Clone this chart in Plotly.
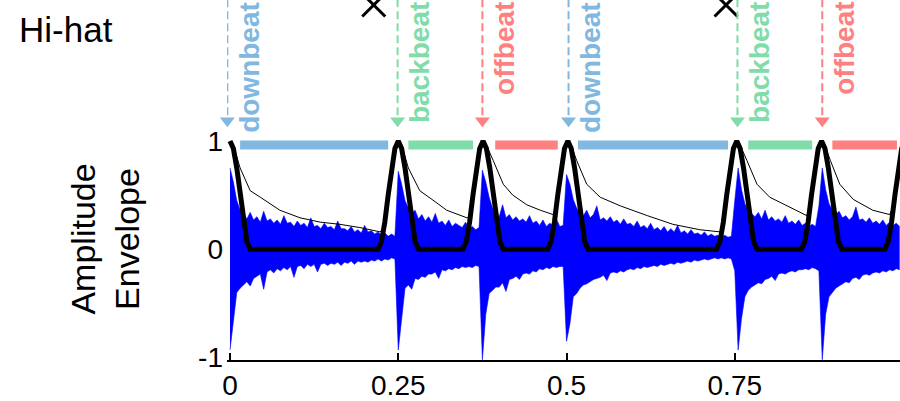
import plotly.graph_objects as go

# ---------------- data ----------------
# sampled audio waveform (hi-hat), upper and lower extent per sample
wave_dt = 0.005
wave_upper = [
    0.75, 0.62, 0.45, 0.36, 0.33, 0.28, 0.34, 0.27, 0.30, 0.25,
    0.35, 0.26, 0.28, 0.24, 0.27, 0.23, 0.31, 0.24, 0.25, 0.21,
    0.26, 0.22, 0.24, 0.20, 0.29, 0.21, 0.22, 0.19, 0.24, 0.20,
    0.21, 0.18, 0.26, 0.19, 0.19, 0.17, 0.21, 0.16, 0.18, 0.15,
    0.22, 0.16, 0.17, 0.14, 0.16, 0.13, 0.15, 0.12, 0.14, 0.12,
    0.72, 0.60, 0.45, 0.38, 0.33, 0.36, 0.28, 0.32, 0.26, 0.30,
    0.25, 0.33, 0.24, 0.26, 0.22, 0.27, 0.21, 0.24, 0.22, 0.20,
    0.25, 0.19, 0.21, 0.18, 0.20,
    0.73, 0.62, 0.48, 0.38, 0.33, 0.30, 0.41, 0.29, 0.32, 0.27,
    0.30, 0.26, 0.28, 0.25, 0.31, 0.24, 0.26, 0.22, 0.27, 0.21,
    0.24, 0.22, 0.28, 0.21, 0.22,
    0.69, 0.60, 0.46, 0.38, 0.34, 0.31, 0.36, 0.29, 0.32, 0.40,
    0.27, 0.29, 0.26, 0.30, 0.25, 0.27, 0.23, 0.28, 0.23, 0.24,
    0.21, 0.26, 0.20, 0.22, 0.19, 0.24, 0.18, 0.20, 0.17, 0.21,
    0.16, 0.19, 0.16, 0.22, 0.15, 0.17, 0.14, 0.18, 0.14, 0.15,
    0.13, 0.16, 0.12, 0.14, 0.12, 0.13, 0.11, 0.13, 0.11, 0.12,
    0.45, 0.75, 0.55, 0.42, 0.36, 0.33, 0.30, 0.34, 0.28, 0.36,
    0.27, 0.30, 0.26, 0.28, 0.25, 0.31, 0.24, 0.26, 0.23, 0.27,
    0.22, 0.24, 0.21, 0.23, 0.21,
    0.40, 0.75, 0.55, 0.42, 0.36, 0.32, 0.35, 0.29, 0.31, 0.27,
    0.30, 0.39, 0.27, 0.28, 0.25, 0.29, 0.24, 0.26, 0.23, 0.27,
    0.22, 0.25, 0.22, 0.24, 0.21,
]
wave_lower = [
    -0.93, -0.64, -0.40, -0.36, -0.33, -0.30, -0.34, -0.27, -0.25, -0.23,
    -0.37, -0.21, -0.19, -0.22, -0.18, -0.20, -0.17, -0.19, -0.16, -0.26,
    -0.16, -0.15, -0.18, -0.14, -0.16, -0.14, -0.21, -0.14, -0.13, -0.15,
    -0.13, -0.14, -0.12, -0.15, -0.12, -0.13, -0.11, -0.14, -0.11, -0.12,
    -0.11, -0.12, -0.10, -0.11, -0.09, -0.11, -0.09, -0.10, -0.08, -0.09,
    -0.93, -0.62, -0.36, -0.33, -0.37, -0.27, -0.28, -0.25, -0.26, -0.23,
    -0.23, -0.21, -0.27, -0.19, -0.20, -0.18, -0.19, -0.17, -0.18, -0.16,
    -0.17, -0.16, -0.17, -0.15, -0.16,
    -1.02, -0.60, -0.41, -0.38, -0.35, -0.35, -0.31, -0.39, -0.28, -0.27,
    -0.25, -0.28, -0.23, -0.22, -0.23, -0.20, -0.21, -0.18, -0.19, -0.17,
    -0.18, -0.16, -0.17, -0.16, -0.16,
    -0.85, -0.69, -0.44, -0.41, -0.36, -0.33, -0.32, -0.30, -0.28, -0.27,
    -0.26, -0.24, -0.29, -0.22, -0.21, -0.22, -0.20, -0.21, -0.19, -0.18,
    -0.19, -0.17, -0.18, -0.16, -0.17, -0.16, -0.15, -0.16, -0.14, -0.15,
    -0.14, -0.13, -0.14, -0.12, -0.13, -0.12, -0.11, -0.12, -0.10, -0.11,
    -0.10, -0.09, -0.10, -0.09, -0.08, -0.09, -0.08, -0.09, -0.08, -0.09,
    -0.20, -0.93, -0.64, -0.44, -0.38, -0.35, -0.33, -0.31, -0.32, -0.28,
    -0.27, -0.25, -0.29, -0.23, -0.22, -0.23, -0.21, -0.20, -0.21, -0.19,
    -0.19, -0.18, -0.19, -0.17, -0.18,
    -0.20, -1.02, -0.60, -0.44, -0.40, -0.36, -0.34, -0.32, -0.30, -0.31,
    -0.27, -0.26, -0.28, -0.24, -0.23, -0.24, -0.22, -0.21, -0.22, -0.20,
    -0.21, -0.19, -0.20, -0.18, -0.19,
]

# smoothed amplitude envelope (thick black)
env_x = [
    0.000, 0.005, 0.010, 0.015, 0.020, 0.025, 0.030,
    0.220, 0.225, 0.230, 0.235, 0.240, 0.245, 0.250, 0.255, 0.260, 0.265, 0.270, 0.275, 0.280,
    0.346, 0.351, 0.356, 0.361, 0.366, 0.371, 0.376, 0.381, 0.386, 0.391, 0.396, 0.401, 0.406,
    0.472, 0.477, 0.482, 0.487, 0.492, 0.497, 0.502, 0.507, 0.512, 0.517, 0.522, 0.527, 0.532,
    0.723, 0.728, 0.733, 0.738, 0.743, 0.748, 0.753, 0.758, 0.763, 0.768, 0.773, 0.778, 0.783,
    0.849, 0.854, 0.859, 0.864, 0.869, 0.874, 0.879, 0.884, 0.889, 0.894, 0.899, 0.904, 0.909,
    0.973, 0.978, 0.983, 0.988, 0.993, 0.998, 1.003,
]
env_y = [
    1.00, 0.93, 0.75, 0.50, 0.25, 0.07, 0.00,
    0.00, 0.07, 0.25, 0.50, 0.75, 0.93, 1.00, 0.93, 0.75, 0.50, 0.25, 0.07, 0.00,
    0.00, 0.07, 0.25, 0.50, 0.75, 0.93, 1.00, 0.93, 0.75, 0.50, 0.25, 0.07, 0.00,
    0.00, 0.07, 0.25, 0.50, 0.75, 0.93, 1.00, 0.93, 0.75, 0.50, 0.25, 0.07, 0.00,
    0.00, 0.07, 0.25, 0.50, 0.75, 0.93, 1.00, 0.93, 0.75, 0.50, 0.25, 0.07, 0.00,
    0.00, 0.07, 0.25, 0.50, 0.75, 0.93, 1.00, 0.93, 0.75, 0.50, 0.25, 0.07, 0.00,
    0.00, 0.07, 0.25, 0.50, 0.75, 0.93, 1.00,
]

# slow-decay envelope (thin black)
thin_x = [
    0.000, 0.005, 0.015, 0.030, 0.045, 0.074, 0.104, 0.134, 0.163, 0.193, 0.223, 0.229, 0.235, 0.240, 0.250,
    0.255, 0.265, 0.282, 0.300, 0.322, 0.352, 0.356, 0.361, 0.366, 0.376,
    0.381, 0.391, 0.406, 0.420, 0.441, 0.461, 0.480, 0.485, 0.492, 0.502,
    0.507, 0.515, 0.530, 0.550, 0.580, 0.620, 0.658, 0.698, 0.728, 0.733, 0.738, 0.743, 0.753,
    0.758, 0.768, 0.783, 0.802, 0.832, 0.857, 0.862, 0.869, 0.879,
    0.884, 0.892, 0.906, 0.926, 0.955, 0.980, 0.986, 0.993, 1.003,
]
thin_y = [
    1.00, 0.96, 0.75, 0.54, 0.48, 0.36, 0.29, 0.25, 0.23, 0.20, 0.16, 0.20, 0.50, 0.75, 1.00,
    0.96, 0.75, 0.54, 0.46, 0.36, 0.29, 0.29, 0.50, 0.75, 1.00,
    0.96, 0.82, 0.60, 0.50, 0.41, 0.36, 0.32, 0.40, 0.75, 1.00,
    0.96, 0.82, 0.60, 0.48, 0.40, 0.31, 0.23, 0.18, 0.16, 0.25, 0.50, 0.75, 1.00,
    0.96, 0.82, 0.60, 0.48, 0.39, 0.31, 0.40, 0.75, 1.00,
    0.96, 0.82, 0.60, 0.46, 0.36, 0.32, 0.40, 0.75, 1.00,
]

# beat segments (coloured bars) and beat arrows
bar_start = [0.015, 0.265, 0.394, 0.517, 0.770, 0.895]
bar_end = [0.235, 0.361, 0.487, 0.740, 0.865, 0.991]
bar_kind = ["downbeat", "backbeat", "offbeat", "downbeat", "backbeat", "offbeat"]
bar_level = 0.963

arrow_x = [-0.004, 0.249, 0.375, 0.503, 0.754, 0.880]
arrow_kind = ["downbeat", "backbeat", "offbeat", "downbeat", "backbeat", "offbeat"]

cross_x = [0.2135, 0.737]

kind_color = {"downbeat": "#80b8e0", "backbeat": "#80dca8", "offbeat": "#ff8080"}

x_tickvals = [0, 0.25, 0.5, 0.75]
x_ticktext = ["0", "0.25", "0.5", "0.75"]
y_tickvals = [-1, 0, 1]
y_ticktext = ["-1", "0", "1"]

# ---------------- figure ----------------
Y_TOP = 2.301
Y_BOT = -1.023
FONT = "Liberation Sans, Arial, sans-serif"

wave_x = [i * wave_dt for i in range(len(wave_upper))]

fig = go.Figure()

fig.add_trace(go.Scatter(x=wave_x, y=wave_lower, mode="lines",
                         line=dict(color="#0000ff", width=0.6), hoverinfo="skip"))
fig.add_trace(go.Scatter(x=wave_x, y=wave_upper, mode="lines", fill="tonexty",
                         fillcolor="#0000ff", line=dict(color="#0000ff", width=0.6),
                         hoverinfo="skip"))

fig.add_trace(go.Scatter(x=thin_x, y=thin_y, mode="lines",
                         line=dict(color="black", width=1), hoverinfo="skip"))
fig.add_trace(go.Scatter(x=env_x, y=env_y, mode="lines",
                         line=dict(color="black", width=5), hoverinfo="skip"))

# coloured beat bars
for s, e, k in zip(bar_start, bar_end, bar_kind):
    fig.add_trace(go.Scatter(x=[s, e], y=[bar_level, bar_level], mode="lines",
                             line=dict(color=kind_color[k], width=9), hoverinfo="skip"))

# arrows: dashed stems + heads + labels
ARROW_TIP = 1.187
for ax, k in zip(arrow_x, arrow_kind):
    c = kind_color[k]
    fig.add_shape(type="line", xref="x", yref="y", x0=ax, x1=ax, y0=ARROW_TIP + 0.05, y1=Y_TOP,
                  line=dict(color=c, width=2, dash="8px,4px"))
    fig.add_annotation(x=ax, y=Y_TOP, xref="x", yref="y", text="<b>%s</b>" % k,
                       textangle=-90, showarrow=False, xanchor="center", yanchor="top",
                       xshift=22, font=dict(family=FONT, size=28, color=c))
fig.add_trace(go.Scatter(x=arrow_x, y=[ARROW_TIP] * len(arrow_x), mode="markers",
                         marker=dict(symbol="triangle-down", size=13,
                                     color=[kind_color[k] for k in arrow_kind]),
                         cliponaxis=False, hoverinfo="skip"))

# notation crosses at the top
fig.add_trace(go.Scatter(x=cross_x, y=[2.255] * len(cross_x), mode="markers",
                         marker=dict(symbol="x-thin", size=23,
                                     line=dict(color="black", width=3)),
                         cliponaxis=False, hoverinfo="skip"))

fig.add_annotation(text="Hi-hat", xref="paper", yref="paper", x=-0.312, y=0.918,
                   xanchor="left", yanchor="middle", showarrow=False,
                   font=dict(family=FONT, size=35, color="black"))
fig.add_annotation(text="Amplitude<br>Envelope", xref="paper", yref="paper", x=-0.181, y=0.335,
                   xanchor="center", yanchor="middle", showarrow=False, textangle=-90,
                   font=dict(family=FONT, size=34, color="black"))

fig.update_layout(
    width=900, height=401,
    margin=dict(l=227, r=0, t=0, b=37),
    paper_bgcolor="white", plot_bgcolor="white",
    showlegend=False,
    font=dict(family=FONT, color="black"),
    xaxis=dict(range=[-0.0045, 0.9955], showgrid=False, zeroline=False,
               showline=True, linecolor="black", linewidth=1.5,
               ticks="inside", ticklen=7, tickwidth=1.5, tickcolor="black",
               tickvals=x_tickvals, ticktext=x_ticktext,
               tickfont=dict(family=FONT, size=28, color="black")),
    yaxis=dict(range=[Y_BOT, Y_TOP], showgrid=False, zeroline=False, showline=False,
               ticks="", tickvals=y_tickvals, ticktext=y_ticktext, ticklabelstandoff=3,
               tickfont=dict(family=FONT, size=28, color="black")),
)

fig.write_html("out.html")
